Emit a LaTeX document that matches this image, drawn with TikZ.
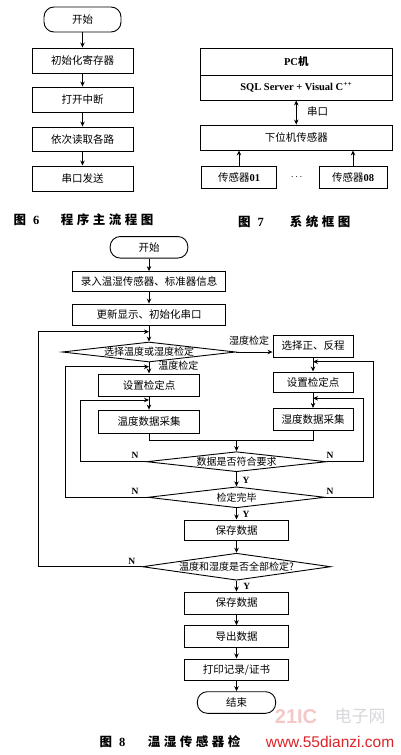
\documentclass[tikz,border=0pt]{standalone}
\usepackage{fontspec}
\setmainfont{Liberation Serif}
\newfontfamily\cjk{Noto Sans CJK SC}
\newfontfamily\capcjk[LetterSpace=28]{Noto Sans CJK SC}
\newfontfamily\wmfont{Liberation Sans}
\usetikzlibrary{shapes.geometric,arrows.meta}
\definecolor{wmred}{RGB}{220,35,40}
\definecolor{wmpink}{RGB}{245,200,200}
\definecolor{wmgray}{RGB}{215,215,220}
\tikzset{
  ln/.style={line width=0.9pt},
  box/.style={draw, ln, rectangle, inner sep=0pt, font=\cjk\fontsize{10.5}{12}\selectfont},
  term/.style={box, rounded corners=10pt},
  dia/.style={draw, ln, diamond, inner sep=0pt, font=\cjk\fontsize{10}{12}\selectfont},
  arr/.style={ln, -{Stealth[length=5pt,width=4.5pt]}},
  darr/.style={ln, {Stealth[length=5pt,width=4.5pt]}-{Stealth[length=5pt,width=4.5pt]}},
  lab/.style={inner sep=0pt, font=\cjk\fontsize{10}{12}\selectfont},
  yn/.style={inner sep=0pt, font=\bfseries\fontsize{9.5}{11}\selectfont},
  capn/.style={inner sep=0pt, font=\bfseries\fontsize{12.5}{14}\selectfont},
  capt/.style={inner sep=0pt, font=\capcjk\bfseries\fontsize{12.5}{14}\selectfont},
}
\begin{document}
\begin{tikzpicture}[x=1pt,y=-1pt]
\useasboundingbox (0,0) rectangle (400,755);
\fill[white] (0,0) rectangle (400,755);

% ---------- Figure 6 ----------
\node[term, minimum width=77pt, minimum height=25pt] (s6) at (82.5,19.5) {开始};
\node[box, minimum width=101pt, minimum height=25pt] (a1) at (82.5,60.5) {初始化寄存器};
\node[box, minimum width=101pt, minimum height=25pt] (a2) at (82.5,99.5) {打开中断};
\node[box, minimum width=101pt, minimum height=24pt] (a3) at (82.5,139) {依次读取各路};
\node[box, minimum width=101pt, minimum height=25pt] (a4) at (82.5,178.5) {串口发送};
\draw[arr] (s6) -- (a1);
\draw[arr] (a1) -- (a2);
\draw[arr] (a2) -- (a3);
\draw[arr] (a3) -- (a4);
\node[capn] (c6a) at (26.5,220) {{\cjk\bfseries 图}\hspace{7pt}6};
\node[capt] (c6b) at (107,220) {程序主流程图};

% ---------- Figure 7 ----------
\node[box, minimum width=191.5pt, minimum height=27pt, font=\bfseries\fontsize{10.5}{12}\selectfont] (pc) at (296.25,61.5) {PC{\cjk 机}};
\node[box, minimum width=191.5pt, minimum height=25pt, font=\bfseries\fontsize{10.5}{12}\selectfont] (sql) at (296.25,87.5) {SQL Server + Visual C\textsuperscript{++}};
\node[box, minimum width=191.5pt, minimum height=25pt] (low) at (296.25,137.5) {下位机传感器};
\draw[darr] (sql.south) -- (low.north);
\node[lab, font=\cjk\fontsize{10.5}{12}\selectfont] (ck) at (317.5,112) {串口};
\node[box, minimum width=75pt, minimum height=22pt] (s01) at (239,177) {传感器{\rmfamily\bfseries 01}};
\node[box, minimum width=68pt, minimum height=22pt] (s08) at (353,177) {传感器{\rmfamily\bfseries 08}};
\node[inner sep=0pt] (dots) at (296.7,177) {$\cdots$};
\draw[arr] (s01.north) -- (s01.north |- low.south);
\draw[arr] (s08.north) -- (s08.north |- low.south);
\node[capn] (c7a) at (251,222) {{\cjk\bfseries 图}\hspace{7pt}7};
\node[capt] (c7b) at (320,222) {系统框图};

% ---------- Figure 8 ----------
\node[term, minimum width=77.7pt, minimum height=21.5pt] (s8) at (149,247.3) {开始};
\node[box, minimum width=153.3pt, minimum height=19.5pt] (r1) at (149,281.3) {录入温湿传感器、标准器信息};
\node[box, minimum width=153.3pt, minimum height=21pt] (r2) at (149,314.5) {更新显示、初始化串口};
\node[dia, minimum width=173.3pt, minimum height=20pt] (d1) at (149,352) {\makebox[0pt]{选择温度或湿度检定}};
\node[box, minimum width=80pt, minimum height=22pt] (fz) at (313,346) {选择正、反程};
\node[box, minimum width=101.7pt, minimum height=22.5pt] (setl) at (149,385.2) {设置检定点};
\node[box, minimum width=80pt, minimum height=20.5pt] (setr) at (313,382.2) {设置检定点};
\node[box, minimum width=101.7pt, minimum height=23.3pt] (datl) at (149,421.7) {温度数据采集};
\node[box, minimum width=80pt, minimum height=22.3pt] (datr) at (313,419.5) {湿度数据采集};
\coordinate (jl) at (149,440);
\coordinate (jr) at (313,440);
\coordinate (jm) at (236.5,440);
\node[dia, minimum width=180pt, minimum height=20pt] (d2) at (236.5,461.7) {\makebox[0pt]{数据是否符合要求}};
\node[dia, minimum width=177pt, minimum height=21pt] (d3) at (236.5,497.3) {\makebox[0pt]{检定完毕}};
\node[box, minimum width=103.3pt, minimum height=20.7pt] (sv1) at (236.5,530.3) {保存数据};
\node[dia, minimum width=188.3pt, minimum height=27pt] (d4) at (236.5,566.7) {\makebox[0pt]{温度和湿度是否全部检定?}};
\node[box, minimum width=103.3pt, minimum height=22pt] (sv2) at (236.5,603) {保存数据};
\node[box, minimum width=103.3pt, minimum height=21.3pt] (ex) at (236.5,636.3) {导出数据};
\node[box, minimum width=103.3pt, minimum height=21.7pt] (pr) at (236.5,669.8) {打印记录/证书};
\node[term, minimum width=78.3pt, minimum height=21.6pt] (en) at (236.5,702.5) {结束};

% loop coordinates
\coordinate (o1) at (38.5,566.7);
\coordinate (o2) at (38.5,331.7);
\coordinate (o3) at (149,331.7);
\coordinate (p1) at (65,497.3);
\coordinate (p2) at (65,366.7);
\coordinate (p3) at (149,366.7);
\coordinate (q1) at (80,461.7);
\coordinate (q2) at (80,400);
\coordinate (q3) at (149,400);
\coordinate (u1) at (373.3,497.3);
\coordinate (u2) at (373.3,361.7);
\coordinate (u3) at (313,361.7);
\coordinate (v1) at (363.3,461.7);
\coordinate (v2) at (363.3,398.3);
\coordinate (v3) at (313,398.3);

\draw[arr] (s8) -- (r1);
\draw[arr] (r1) -- (r2);
\draw[arr] (r2) -- (d1);
\draw[arr] (d4.west) -- (o1) -- (o2) -- (o3);
\draw[arr] (d1.east) -- (d1.east -| fz.west);
\node[lab] (lsd) at (249,340.5) {湿度检定};
\draw[arr] (d1.south) -- (setl.north);
\node[lab] (lwd) at (178.3,365.5) {温度检定};
\draw[arr] (fz.south) -- (setr.north);
\draw[arr] (setl) -- (datl);
\draw[arr] (setr) -- (datr);
\draw[ln] (datl.south) -- (jl) -- (jr) -- (datr.south);
\draw[arr] (jm) -- (d2.north);
\draw[arr] (d2.west) -- (q1) -- (q2) -- (q3);
\draw[arr] (d2.east) -- (v1) -- (v2) -- (v3);
\draw[arr] (d3.west) -- (p1) -- (p2) -- (p3);
\draw[arr] (d3.east) -- (u1) -- (u2) -- (u3);
\draw[arr] (d2) -- (d3);
\draw[arr] (d3) -- (sv1);
\draw[arr] (sv1) -- (d4);
\draw[arr] (d4) -- (sv2);
\draw[arr] (sv2) -- (ex);
\draw[arr] (ex) -- (pr);
\draw[arr] (pr) -- (en);

\node[yn] (n1) at (135,455) {N};
\node[yn] (n2) at (330,455) {N};
\node[yn] (n3) at (135,491.7) {N};
\node[yn] (n4) at (330,491.7) {N};
\node[yn] (n5) at (131.7,561) {N};
\node[yn] (y1) at (246,480) {Y};
\node[yn] (y2) at (246,514) {Y};
\node[yn] (y3) at (246.7,586) {Y};

\node[capn] (c8a) at (112.5,741.7) {{\cjk\bfseries 图}\hspace{7pt}8};
\node[capt] (c8b) at (194,741.7) {温湿传感器检};

% watermark
\node[inner sep=0pt, text=wmpink, font=\wmfont\bfseries\fontsize{20}{22}\selectfont] (wm1) at (296,717) {21IC};
\node[inner sep=0pt, text=wmgray, font=\cjk\fontsize{17}{19}\selectfont] (wm2) at (360,716) {电子网};
\node[inner sep=0pt, text=wmred, font=\wmfont\fontsize{15.5}{17}\selectfont] (wm3) at (330,741.5) {www.55dianzi.com};
\end{tikzpicture}
\end{document}
